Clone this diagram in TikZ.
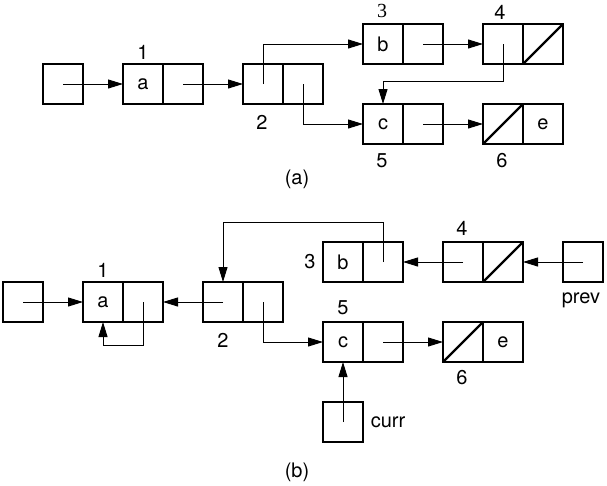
\documentclass[tikz,border=0pt]{standalone}
\usepackage{fontspec}
\setmainfont{TeX Gyre Heros}
\newfontfamily\serifthree{Liberation Serif}
\usetikzlibrary{arrows.meta}
\begin{document}
\begin{tikzpicture}[x=1pt,y=-1pt,
  cell/.style={draw,line width=2.3pt,minimum width=40pt,minimum height=40pt,inner sep=0pt,outer sep=0pt,font=\fontsize{20}{23}\selectfont},
  lbl/.style={inner sep=0pt,font=\fontsize{20}{23}\selectfont},
  link/.style={line width=1pt,-{Triangle[length=15pt,width=9pt]}},
  slash/.style={line width=2.3pt}]
\useasboundingbox (0,0) rectangle (607,485);
% ---------- (a) ----------
\node[cell] (h0) at (63,84) {};
\node[cell] (n1a) at (143,84) {a};
\node[cell] (n1b) at (183,84) {};
\node[cell] (n2a) at (263,84) {};
\node[cell] (n2b) at (303,84) {};
\node[cell] (n3a) at (383,44) {b};
\node[cell] (n3b) at (423,44) {};
\node[cell] (n4a) at (503,44) {};
\node[cell] (n4b) at (543,44) {};
\node[cell] (n5a) at (383,124) {c};
\node[cell] (n5b) at (423,124) {};
\node[cell] (n6a) at (503,124) {};
\node[cell] (n6b) at (543,124) {e};
\draw[slash] (n4b.south west) -- (n4b.north east);
\draw[slash] (n6a.south west) -- (n6a.north east);
\node[lbl] (t1) at (143,52) {1};
\node[lbl] (t2) at (262,122) {2};
\node[lbl,font=\serifthree\fontsize{20}{23}\selectfont] (t3) at (382,11) {3};
\node[lbl] (t4) at (500,12) {4};
\node[lbl] (t5) at (382,161) {5};
\node[lbl] (t6) at (502,161) {6};
\node[lbl] (ta) at (297,179) {(a)};
\draw[link] (h0.center) -- (n1a.west);
\draw[link] (n1b.center) -- (n2a.west);
\draw[link] (n2a.center) |- (n3a.west);
\draw[link] (n2b.center) |- (n5a.west);
\draw[link] (n3b.center) -- (n4a.west);
\draw[link] (n4a.center) -- ++(0,37) -| (n5a.north);
\draw[link] (n5b.center) -- (n6a.west);
% ---------- (b) ----------
\node[cell] (hb) at (23,302) {};
\node[cell] (m1a) at (103,302) {a};
\node[cell] (m1b) at (143,302) {};
\node[cell] (m2a) at (223,302) {};
\node[cell] (m2b) at (263,302) {};
\node[cell] (m3a) at (343,262) {b};
\node[cell] (m3b) at (383,262) {};
\node[cell] (m4a) at (463,262) {};
\node[cell] (m4b) at (503,262) {};
\node[cell] (prev) at (583,262) {};
\node[cell] (m5a) at (343,342) {c};
\node[cell] (m5b) at (383,342) {};
\node[cell] (m6a) at (463,342) {};
\node[cell] (m6b) at (503,342) {e};
\node[cell] (curr) at (343,422) {};
\draw[slash] (m4b.south west) -- (m4b.north east);
\draw[slash] (m6a.south west) -- (m6a.north east);
\node[lbl] (u1) at (103,270) {1};
\node[lbl] (u2) at (223,340) {2};
\node[lbl] (u3) at (310,262) {3};
\node[lbl] (u4) at (462,228) {4};
\node[lbl] (u5) at (343,308) {5};
\node[lbl] (u6) at (462,378) {6};
\node[lbl] (uprev) at (581,300) {prev};
\node[lbl] (ucurr) at (388,422) {curr};
\node[lbl] (tb) at (297,472) {(b)};
\draw[link] (hb.center) -- (m1a.west);
\draw[link] (m1b.center) -- ++(0,43) -| (m1a.south);
\draw[link] (m2a.center) -- (m1b.east);
\draw[link] (m2b.center) |- (m5a.west);
\draw[link] (m3b.center) -- ++(0,-40) -| (m2a.north);
\draw[link] (m4a.center) -- (m3b.east);
\draw[link] (prev.center) -- (m4b.east);
\draw[link] (m5b.center) -- (m6a.west);
\draw[link] (curr.center) -- (m5a.south);
\end{tikzpicture}
\end{document}
